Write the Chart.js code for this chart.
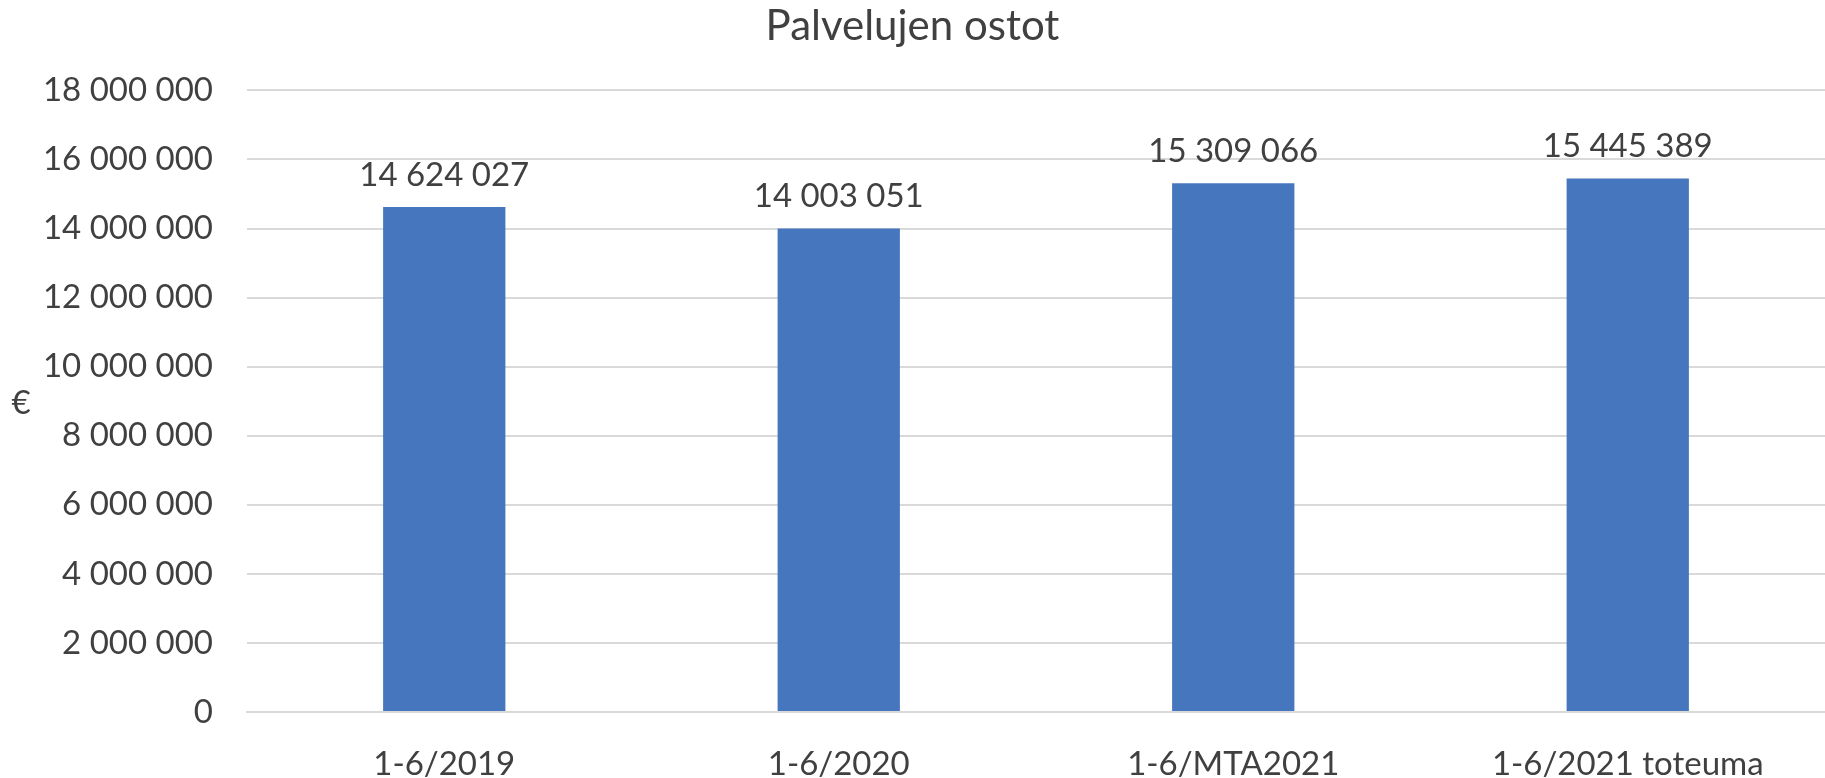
<!DOCTYPE html>
<html>
<head>
<meta charset="utf-8">
<script src="https://cdn.jsdelivr.net/npm/chart.js@4"></script>
<style>
  html, body { margin: 0; padding: 0; background: #fff; }
  #wrap { width: 1825px; height: 778px; }
</style>
</head>
<body>
<div id="wrap"><canvas id="ostotChart"></canvas></div>
<script>
const kategoriat = ['1-6/2019', '1-6/2020', '1-6/MTA2021', '1-6/2021 toteuma'];
const ostot = [14624027, 14003051, 15309066, 15445389];
const yMax = 18000000;
const yAskel = 2000000;

const tekstiVari = '#404040';
const fontti = 'Lato, "Open Sans", sans-serif';

// välilyönti tuhaterottimena
function muotoile(v) {
  return String(v).replace(/\B(?=(\d{3})+(?!\d))/g, ' ');
}

// arvot pylväiden päälle + euro-merkki y-akselille
const arvoPlugin = {
  id: 'arvot',
  afterDatasetsDraw(chart) {
    const ctx = chart.ctx;
    const meta = chart.getDatasetMeta(0);
    ctx.save();
    ctx.font = '33px ' + fontti;
    ctx.fillStyle = tekstiVari;
    ctx.textAlign = 'center';
    ctx.textBaseline = 'middle';
    meta.data.forEach((bar, i) => {
      ctx.fillText(muotoile(ostot[i]), bar.x, bar.y - 32);
    });
    const y = chart.scales.y;
    ctx.fillText('€', 21, (y.top + y.bottom) / 2 + 2);
    ctx.restore();
  }
};

const ctx = document.getElementById('ostotChart').getContext('2d');
new Chart(ctx, {
  type: 'bar',
  data: {
    labels: kategoriat,
    datasets: [{
      label: 'Palvelujen ostot',
      data: ostot,
      backgroundColor: '#4677be',
      borderWidth: 0,
      barPercentage: 0.31,
      categoryPercentage: 1
    }]
  },
  options: {
    responsive: true,
    maintainAspectRatio: false,
    animation: false,
    layout: { padding: { left: 0, right: 0, top: 0, bottom: 0 } },
    plugins: {
      legend: { display: false },
      tooltip: { enabled: false },
      title: {
        display: true,
        text: 'Palvelujen ostot',
        color: tekstiVari,
        font: { family: fontti, size: 42, weight: 'normal' },
        padding: { top: 1, bottom: 39 }
      }
    },
    scales: {
      x: {
        grid: { display: false },
        border: { display: true, color: '#d9d9d9', width: 2 },
        ticks: {
          color: tekstiVari,
          font: { family: fontti, size: 33 },
          padding: 25,
          maxRotation: 0
        },
        afterFit(scale) { scale.height = 66; }
      },
      y: {
        min: 0,
        max: yMax,
        grid: { color: '#d9d9d9', lineWidth: 2, drawTicks: false },
        border: { display: false },
        ticks: {
          stepSize: yAskel,
          color: tekstiVari,
          font: { family: fontti, size: 33 },
          padding: 34,
          callback: v => muotoile(v)
        },
        afterFit(scale) { scale.width = 247; }
      }
    }
  },
  plugins: [arvoPlugin]
});
</script>
</body>
</html>
